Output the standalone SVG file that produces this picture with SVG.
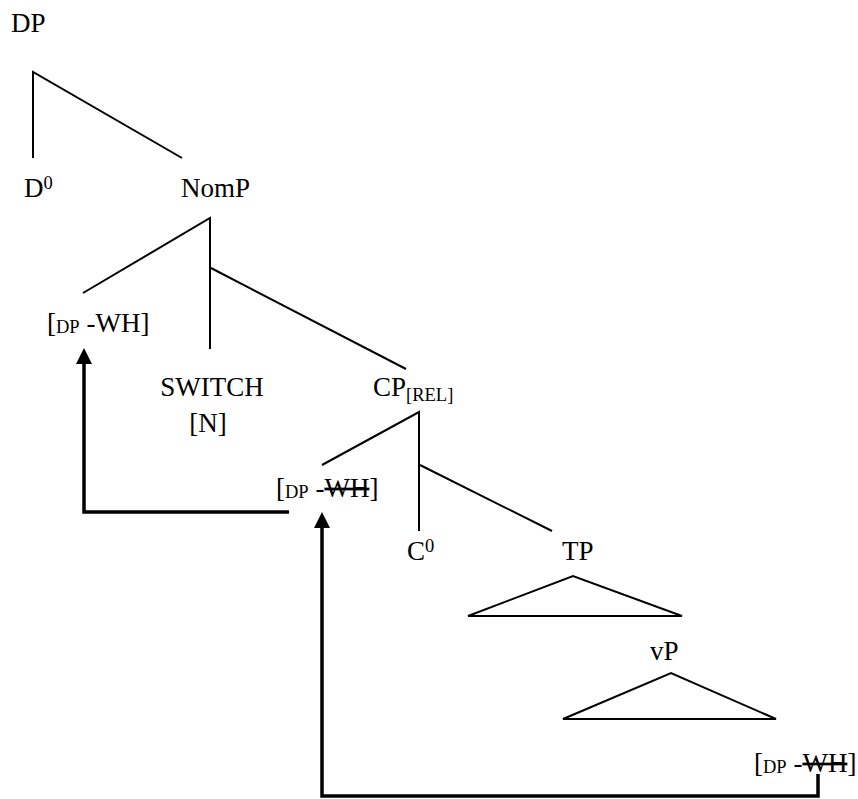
<svg xmlns="http://www.w3.org/2000/svg" width="858" height="799" viewBox="0 0 858 799">
<style>
text{font-family:"Liberation Serif","Times New Roman",serif;fill:#000;font-size:27px}
.s{font-size:18.5px}
.strike{text-decoration:line-through}
.br{stroke:#000;stroke-width:2;fill:none;stroke-linecap:butt}
.mv{stroke:#000;stroke-width:3.5;fill:none;stroke-linejoin:miter}
</style>
<defs>
<marker id="ah" markerUnits="userSpaceOnUse" markerWidth="16" markerHeight="16" viewBox="0 0 16 16" refX="0" refY="8" orient="auto">
<path d="M0,0 L16,8 L0,16 z" fill="#000"/>
</marker>
</defs>
<rect width="858" height="799" fill="#fff"/>
<g id="connectors">
<path class="br" d="M33,158 V72 L182,158"/>
<path class="br" d="M83,293 L210,218 V349"/>
<path class="br" d="M211,268 L406,369"/>
<path class="br" d="M322,465 L419,412 V531"/>
<path class="br" d="M420,465 L552,531"/>
<path class="br" d="M468,616 L573,576 L682,616 Z"/>
<path class="br" d="M563,719 L671,673 L776,719 Z"/>
<path class="mv" d="M289,512 H84 V364" marker-end="url(#ah)"/>
<path class="mv" d="M818,774 V796 H322 V528" marker-end="url(#ah)"/>
</g>
<g id="DP"><text x="11" y="32">DP</text></g>
<g id="D0"><text x="24" y="197">D<tspan class="s" dy="-8">0</tspan></text></g>
<g id="NomP"><text x="181" y="197">NomP</text></g>
<g id="DP-WH-1"><text x="47" y="332">[<tspan class="s" dy="1">DP</tspan><tspan dy="-1"> -WH]</tspan></text></g>
<g id="SWITCH"><text x="212" y="396" text-anchor="middle">SWITCH</text><text x="208" y="432" text-anchor="middle">[N]</text></g>
<g id="CP"><text x="373" y="396">CP<tspan class="s" dy="5">[REL]</tspan></text></g>
<g id="DP-WH-2"><text x="276" y="497">[<tspan class="s" dy="1">DP</tspan><tspan dy="-1"> -</tspan><tspan class="strike">WH</tspan>]</text></g>
<g id="C0"><text x="407" y="560">C<tspan class="s" dy="-8">0</tspan></text></g>
<g id="TP"><text x="562" y="560">TP</text></g>
<g id="vP"><text x="650" y="660">vP</text></g>
<g id="DP-WH-3"><text x="754" y="772">[<tspan class="s" dy="1">DP</tspan><tspan dy="-1"> -</tspan><tspan class="strike">WH</tspan>]</text></g>
</svg>
